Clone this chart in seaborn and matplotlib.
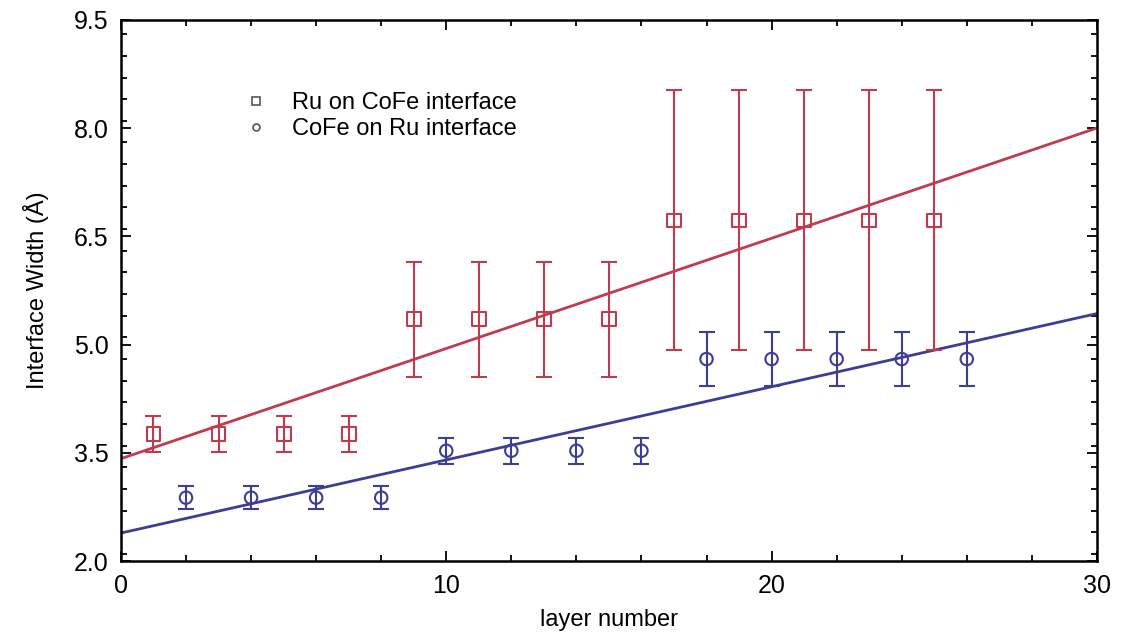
import numpy as np
import pandas as pd
import matplotlib
matplotlib.use('Agg')
import matplotlib.pyplot as plt
import seaborn as sns
from matplotlib.ticker import MultipleLocator

# Данные
ru_x = [1, 3, 5, 7, 9, 11, 13, 15, 17, 19, 21, 23, 25]
ru_y = [3.76, 3.76, 3.76, 3.76, 5.35, 5.35, 5.35, 5.35, 6.72, 6.72, 6.72, 6.72, 6.72]
ru_err = [0.25, 0.25, 0.25, 0.25, 0.80, 0.80, 0.80, 0.80, 1.80, 1.80, 1.80, 1.80, 1.80]

cofe_x = [2, 4, 6, 8, 10, 12, 14, 16, 18, 20, 22, 24, 26]
cofe_y = [2.88, 2.88, 2.88, 2.88, 3.53, 3.53, 3.53, 3.53, 4.80, 4.80, 4.80, 4.80, 4.80]
cofe_err = [0.16, 0.16, 0.16, 0.16, 0.18, 0.18, 0.18, 0.18, 0.38, 0.38, 0.38, 0.38, 0.38]

# Линии аппроксимации (концы)
fit_x = [0, 30]
ru_fit = [3.42, 8.0]
cofe_fit = [2.39, 5.43]

red = '#c23a4e'
blue = '#3d3d96'

sns.set_style('ticks')
plt.rcParams['font.family'] = ['Liberation Sans', 'DejaVu Sans']

fig = plt.figure(figsize=(11.24, 6.37), dpi=100)
ax = fig.add_axes([0.1076, 0.119, 0.8683, 0.850])

df_ru = pd.DataFrame({'x': ru_x, 'y': ru_y, 'err': ru_err})
df_co = pd.DataFrame({'x': cofe_x, 'y': cofe_y, 'err': cofe_err})
df_fit = pd.DataFrame({'x': fit_x * 2, 'y': ru_fit + cofe_fit,
                       'series': ['ru'] * 2 + ['co'] * 2})

# Линии
sns.lineplot(data=df_fit, x='x', y='y', hue='series',
             palette={'ru': red, 'co': blue}, lw=2, legend=False, ax=ax)

# Погрешности
ax.errorbar(df_ru['x'], df_ru['y'], yerr=df_ru['err'], fmt='none',
            ecolor=red, elinewidth=1.5, capsize=6, capthick=1.5)
ax.errorbar(df_co['x'], df_co['y'], yerr=df_co['err'], fmt='none',
            ecolor=blue, elinewidth=1.5, capsize=6, capthick=1.5)

# Точки
sns.scatterplot(data=df_ru, x='x', y='y', marker='s', s=100,
                facecolor='none', edgecolor=red, linewidth=1.5, ax=ax)
sns.scatterplot(data=df_co, x='x', y='y', marker='o', s=80,
                facecolor='none', edgecolor=blue, linewidth=1.5, ax=ax)

# Легенда
ax.plot([], [], 's', ms=6, mfc='none', mec='#555555', mew=1.2,
        label='Ru on CoFe interface')
ax.plot([], [], 'o', ms=5, mfc='none', mec='#555555', mew=1.2,
        label='CoFe on Ru interface')
ax.legend(loc='upper left', bbox_to_anchor=(0.105, 0.905), frameon=False,
          fontsize=17, handletextpad=1.0, labelspacing=0.15, handlelength=1.0,
          labelcolor='black')

ax.set_xlim(0, 30)
ax.set_ylim(2.0, 9.5)
ax.set_xticks([0, 10, 20, 30])
ax.set_yticks([2.0, 3.5, 5.0, 6.5, 8.0, 9.5])
ax.set_yticklabels(['2.0', '3.5', '5.0', '6.5', '8.0', '9.5'])
ax.xaxis.set_minor_locator(MultipleLocator(2))
ax.yaxis.set_minor_locator(MultipleLocator(0.3))
ax.tick_params(which='both', direction='in', top=True, right=True,
               labelsize=18, width=1.3, colors='black', pad=9)
ax.tick_params(which='major', length=7)
ax.tick_params(which='minor', length=4)
for sp in ax.spines.values():
    sp.set_linewidth(1.8)
    sp.set_color('black')

ax.set_xlabel('layer number', fontsize=17, labelpad=8, color='black')
ax.set_ylabel('Interface Width (Å)', fontsize=17, labelpad=18, color='black')

fig.savefig('out.png', dpi=100)
